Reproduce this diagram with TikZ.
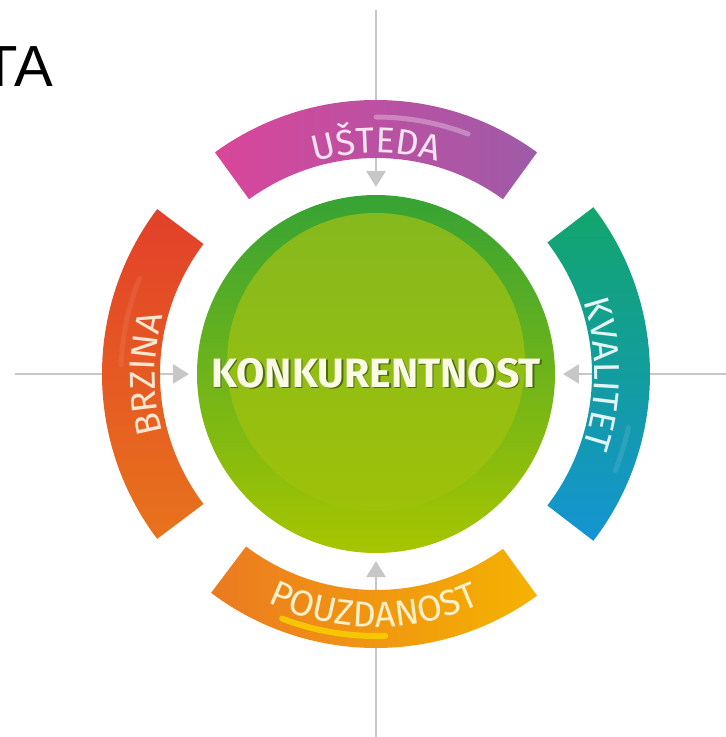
\documentclass[tikz,border=0pt]{standalone}
\usepackage{fontspec}
\setmainfont{Fira Sans}
\newfontfamily\titlefont{Liberation Sans}
\usetikzlibrary{arrows.meta, decorations.text}

\definecolor{ringtop}{HTML}{36A334}
\definecolor{ringbot}{HTML}{A7C500}
\definecolor{disctop}{HTML}{84B820}
\definecolor{discbot}{HTML}{A2C306}
\definecolor{coretext}{HTML}{FAFBE6}
\definecolor{coreshadow}{HTML}{4D6A12}
\definecolor{ustedaL}{HTML}{D9469A}
\definecolor{ustedaR}{HTML}{9E5BA9}
\definecolor{ustedaT}{HTML}{F8E4F1}
\definecolor{brzinaT}{HTML}{FBE6D2}
\definecolor{brzinaU}{HTML}{E2402A}
\definecolor{brzinaD}{HTML}{E8731C}
\definecolor{kvalitetU}{HTML}{12A56C}
\definecolor{kvalitetD}{HTML}{1494D2}
\definecolor{kvalitetT}{HTML}{E2F5F4}
\definecolor{pouzdL}{HTML}{EC7A21}
\definecolor{pouzdR}{HTML}{F5B300}
\definecolor{pouzdT}{HTML}{FEF1C9}
\definecolor{pouzdGloss}{HTML}{F9D000}

\newcommand\segsize{\fontsize{36}{36}\selectfont}
\newcommand\glowtext[1]{\rlap{\raisebox{-1.6pt}{\hspace{1.6pt}\textcolor{coreshadow}{#1}}}#1}

\begin{document}
\begin{tikzpicture}[
  x=1pt, y=1pt,
  core/.style={circle, inner sep=0pt, outer sep=0pt, minimum size=358pt,
    top color=ringtop, bottom color=ringbot, text=coretext,
    font=\fontsize{41}{41}\selectfont\bfseries},
  feed/.style={draw=black!22, line width=2.4pt, -{Triangle[width=19pt,length=16pt]}, shorten >=8pt},
  seg label/.style={decorate, decoration={text along path, text align=center, text color=#1}},
  gloss/.style={line width=5pt, line cap=round, draw=white, opacity=0.3}
]
  \useasboundingbox (-376,-363) rectangle (350,374);

  \node[anchor=base east, inner sep=0pt, font=\titlefont\fontsize{58}{58}\selectfont] (title) at (-323,287) {TA};

  % centre
  \node[core, path picture={
      \shade[top color=disctop, bottom color=discbot]
        ([yshift=12pt]path picture bounding box.center) circle[radius=149pt];}] (core) at (0,0) {\raisebox{3pt}{\glowtext{KONKURENTNOST}}};

  % feeds
  \coordinate (top end) at (0,364);
  \coordinate (bottom end) at (0,-363);
  \coordinate (left end) at (-361,0);
  \coordinate (right end) at (350,0);
  \draw[feed] (top end) -- (core);
  \draw[feed] (bottom end) -- (core);
  \draw[feed] (left end) -- (core);
  \draw[feed] (right end) -- (core);

  % UŠTEDA
  \shade[left color=ustedaL, right color=ustedaR] (126:216pt) arc[start angle=126, end angle=54, radius=216pt]
    -- (54:274pt) arc[start angle=54, end angle=126, radius=274pt] -- cycle;
  \draw[gloss, opacity=0.3] (90:257pt) arc[start angle=90, end angle=69, radius=257pt];
  \path[seg label=ustedaT, decoration={text={|\segsize\addfontfeature{LetterSpace=2}|U{Š}TEDA}}]
    (126:221pt) arc[start angle=126, end angle=54, radius=221pt];

  % BRZINA
  \shade[top color=brzinaU, bottom color=brzinaD] (143:216pt) arc[start angle=143, end angle=217, radius=216pt]
    -- (217:274pt) arc[start angle=217, end angle=143, radius=274pt] -- cycle;
  \draw[gloss, opacity=0.08] (158:255pt) arc[start angle=158, end angle=178, radius=255pt];
  \path[seg label=brzinaT, decoration={text={|\segsize\addfontfeature{LetterSpace=1}|BRZINA}}]
    (217:221pt) arc[start angle=217, end angle=143, radius=221pt];

  % KVALITET
  \shade[top color=kvalitetU, bottom color=kvalitetD] (37.5:216pt) arc[start angle=37.5, end angle=-37.5, radius=216pt]
    -- (-37.5:274pt) arc[start angle=-37.5, end angle=37.5, radius=274pt] -- cycle;
  \draw[gloss, opacity=0.1] (-12:258pt) arc[start angle=-12, end angle=-22, radius=258pt];
  \path[seg label=kvalitetT, decoration={text={|\segsize\addfontfeature{LetterSpace=7}|KVALITET}}]
    (37.5:219pt) arc[start angle=37.5, end angle=-37.5, radius=219pt];

  % POUZDANOST
  \shade[left color=pouzdL, right color=pouzdR] (233:216pt) arc[start angle=233, end angle=306, radius=216pt]
    -- (306:274pt) arc[start angle=306, end angle=233, radius=274pt] -- cycle;
  \draw[gloss, draw=pouzdGloss, line width=6pt, opacity=0.85] (249:262pt) arc[start angle=249, end angle=272, radius=262pt];
  \path[seg label=pouzdT, decoration={text={|\segsize\addfontfeature{LetterSpace=15}|POUZDANOST}}]
    (233:253pt) arc[start angle=233, end angle=306, radius=253pt];
\end{tikzpicture}
\end{document}
